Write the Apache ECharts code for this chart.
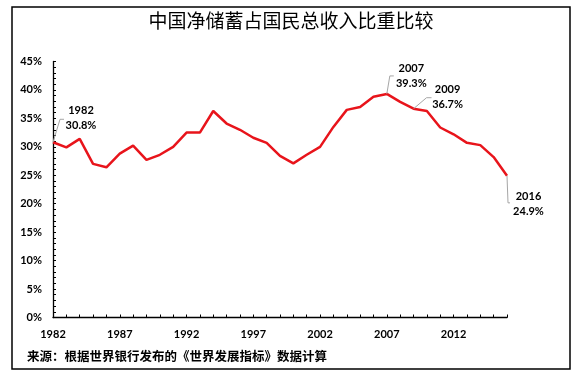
<!DOCTYPE html>
<html><head><meta charset="utf-8">
<script src="https://cdn.jsdelivr.net/npm/echarts@6/dist/echarts.min.js"></script>
<style>html,body{margin:0;padding:0;background:#fff}#c{width:582px;height:373px}</style>
</head><body><div id="c"></div>
<script>
const titleText = '中国净储蓄占国民总收入比重比较';
const sourceText = '来源：根据世界银行发布的《世界发展指标》数据计算';
const years = [];
for (let y = 1982; y <= 2016; y++) years.push(String(y));
const savingsRate = [30.8, 29.9, 31.4, 27.0, 26.4, 28.8, 30.2, 27.7, 28.6, 30.0,
  32.5, 32.5, 36.3, 34.1, 33.0, 31.6, 30.7, 28.4, 27.1, 28.6,
  30.0, 33.5, 36.5, 37.0, 38.8, 39.3, 37.9, 36.7, 36.3, 33.4,
  32.2, 30.7, 30.3, 28.2, 24.9];
const yTicks = [0, 5, 10, 15, 20, 25, 30, 35, 40, 45];
const annotatedYears = ['1982', '2007', '2009', '2016'];

const lblFont = 'Lato, "Open Sans", sans-serif';
const chart = echarts.init(document.getElementById('c'), null, {renderer: 'canvas'});
chart.setOption({
  animation: false,
  backgroundColor: '#fff',
  grid: {left: 53, right: 75, top: 61.5, bottom: 55.5, containLabel: false},
  xAxis: {
    type: 'category', data: years, boundaryGap: false,
    axisLine: {lineStyle: {color: '#000', width: 1.3}},
    axisTick: {show: true, inside: true, length: 3, interval: 0, alignWithLabel: true, lineStyle: {color: '#000'}},
    axisLabel: {interval: 4, margin: 11, color: '#000', fontFamily: lblFont, fontWeight: 'bold', fontSize: 11},
    splitLine: {show: false}
  },
  yAxis: {
    type: 'value', min: yTicks[0], max: yTicks[yTicks.length - 1], interval: 5,
    axisLine: {show: true, lineStyle: {color: '#000', width: 1.3}},
    axisTick: {show: true, inside: true, length: 3, lineStyle: {color: '#000'}},
    minorTick: {show: true, splitNumber: 5, length: 3, lineStyle: {color: '#000'}},
    axisLabel: {margin: 11, color: '#000', fontFamily: lblFont, fontWeight: 'bold', fontSize: 11, formatter: '{value}%'},
    splitLine: {show: false}
  },
  series: [{
    type: 'line', data: savingsRate, symbol: 'none',
    lineStyle: {color: '#e8141b', width: 2.5}
  }],
  graphic: []
});

// annotation offsets (label block centre relative to point, leader elbow)
const annoStyle = {
  '1982': {dx: 28, dy: -24, elbow: [[7, -23], [11, -23]]},
  '2007': {dx: 24.5, dy: -18, elbow: [[3, -18], [7, -18]]},
  '2009': {dx: 34, dy: -12, elbow: [[13, -11], [18, -11]]},
  '2016': {dx: 21.5, dy: 28.5, elbow: [[1, 27], [3, 27]]}
};
const g = [];
annotatedYears.forEach(function (yr) {
  const i = years.indexOf(yr);
  const p = chart.convertToPixel({gridIndex: 0}, [i, savingsRate[i]]);
  const s = annoStyle[yr];
  const pts = [[p[0], p[1]]].concat(s.elbow.map(e => [p[0] + e[0], p[1] + e[1]]));
  g.push({type: 'polyline', shape: {points: pts}, style: {stroke: '#a6a6a6', lineWidth: 1, fill: null}, z: 10});
  g.push({type: 'text', x: p[0] + s.dx, y: p[1] + s.dy, z: 10,
    style: {text: yr + '\n' + savingsRate[i].toFixed(1) + '%', align: 'center', verticalAlign: 'middle',
      lineHeight: 15, font: 'bold 11px ' + lblFont, fill: '#000'}});
});
g.push({type: 'rect', shape: {x: 12, y: 7, width: 558, height: 362}, style: {fill: null, stroke: '#000', lineWidth: 1.5}, z: 1});
g.push({type: 'text', x: 291, y: 21, z: 10,
  style: {text: titleText, align: 'center', verticalAlign: 'middle', font: '19px "Noto Sans CJK SC", sans-serif', fill: '#000'}});
g.push({type: 'text', x: 27, y: 356, z: 10,
  style: {text: sourceText, align: 'left', verticalAlign: 'middle', font: 'bold 12.5px "Noto Sans CJK SC", sans-serif', fill: '#000'}});
chart.setOption({graphic: g});
</script>
</body></html>
